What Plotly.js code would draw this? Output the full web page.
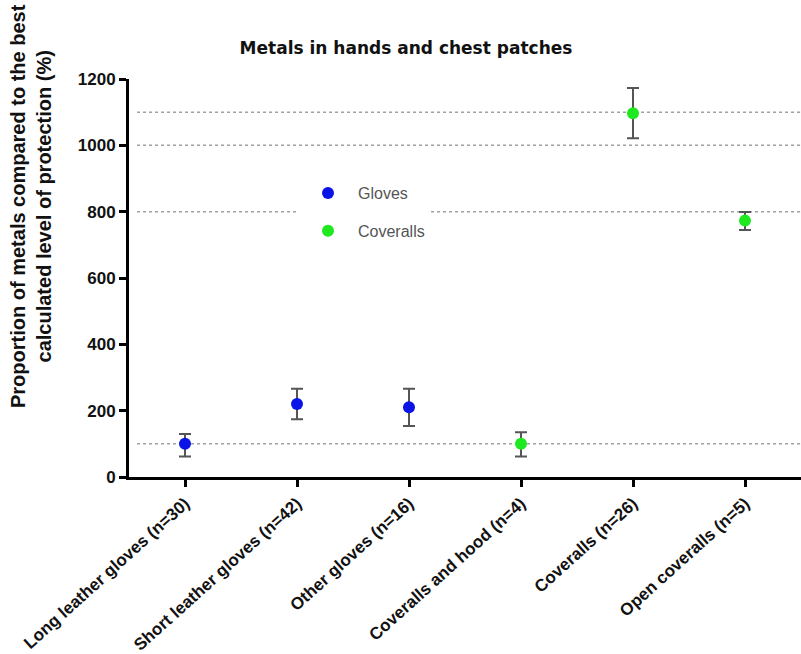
<!DOCTYPE html>
<html>
<head>
<meta charset="utf-8">
<script src="https://cdn.plot.ly/plotly-3.0.1.min.js"></script>
<style>
  html, body { margin: 0; padding: 0; background: #fff; }
  #chart { width: 801px; height: 654px; }
</style>
</head>
<body>
<div id="chart"></div>
<script>
// Protection categories along the x axis
const categories = [
  'Long leather gloves (n=30)',
  'Short leather gloves (n=42)',
  'Other gloves (n=16)',
  'Coveralls and hood (n=4)',
  'Coveralls (n=26)',
  'Open coveralls (n=5)'
];

// Gloves: mean proportion (%) with upper / lower error
const glovesCats = categories.slice(0, 3);
const glovesMean = [100, 220, 210];
const glovesErrUp = [30, 46, 56];
const glovesErrDown = [38, 46, 56];

// Coveralls: mean proportion (%) with upper / lower error
const coverallsCats = categories.slice(3, 6);
const coverallsMean = [100, 1097, 773];
const coverallsErrUp = [35, 76, 26];
const coverallsErrDown = [38, 76, 28];

// Reference levels drawn as dotted horizontal lines
const referenceLevels = [1100, 1000, 800, 100];

const yTicks = [0, 200, 400, 600, 800, 1000, 1200];

const sans = 'Liberation Sans, Arial, sans-serif';

const traces = [
  {
    type: 'scatter', mode: 'markers', name: 'Gloves', legendgroup: 'g1',
    x: glovesCats, y: glovesMean,
    marker: { color: '#0a14e6', size: 12, symbol: 'circle' },
    error_y: { type: 'data', symmetric: false, array: glovesErrUp, arrayminus: glovesErrDown,
               color: '#555', thickness: 2, width: 6 },
    hoverinfo: 'skip'
  },
  {
    type: 'scatter', mode: 'markers', name: 'Coveralls', legendgroup: 'g2',
    x: coverallsCats, y: coverallsMean,
    marker: { color: '#1ee81e', size: 12, symbol: 'circle' },
    error_y: { type: 'data', symmetric: false, array: coverallsErrUp, arrayminus: coverallsErrDown,
               color: '#555', thickness: 2, width: 6 },
    hoverinfo: 'skip'
  }
];

const shapes = referenceLevels.map(v => ({
  type: 'line', xref: 'paper', yref: 'y', x0: 0.012, x1: 1, y0: v, y1: v,
  line: { color: '#a0a0a0', width: 1.5, dash: 'dot' }, layer: 'below'
}));

const layout = {
  width: 801, height: 654,
  margin: { l: 129, r: 0, t: 79, b: 177 },
  paper_bgcolor: '#fff', plot_bgcolor: '#fff',
  showlegend: true,
  title: {
    text: 'Metals in hands and chest patches',
    font: { family: 'DejaVu Sans, Verdana, sans-serif', size: 17, color: '#111', weight: 'bold' },
    x: 406 / 801, xanchor: 'center', y: 1 - 48 / 654, yanchor: 'middle'
  },
  xaxis: {
    type: 'category', categoryorder: 'array', categoryarray: categories,
    range: [-0.5, 5.5], automargin: false,
    showline: true, linecolor: '#000', linewidth: 3,
    ticks: 'outside', ticklen: 7, tickwidth: 3, tickcolor: '#000',
    tickangle: -42, tickfont: { family: sans, size: 17, color: '#111', weight: 'bold' },
    showgrid: false, zeroline: false, fixedrange: true
  },
  yaxis: {
    range: [0, 1200], tickvals: yTicks, automargin: false,
    showline: true, linecolor: '#000', linewidth: 3,
    ticks: 'outside', ticklen: 7, tickwidth: 3, tickcolor: '#000',
    tickfont: { family: sans, size: 17, color: '#111', weight: 'bold' },
    showgrid: false, zeroline: false, fixedrange: true
  },
  legend: {
    x: (298 - 129) / 672, y: 1 - (176 - 79) / 398, xanchor: 'left', yanchor: 'top',
    bgcolor: '#fff', borderwidth: 0,
    font: { family: sans, size: 16, color: '#555' },
    itemwidth: 50, tracegroupgap: 14, traceorder: 'grouped'
  },
  shapes: shapes,
  annotations: [{
    xref: 'paper', yref: 'paper',
    x: (31 - 129) / 672, y: 1 - (206 - 79) / 398,
    xanchor: 'center', yanchor: 'middle', textangle: -90, showarrow: false,
    text: 'Proportion of metals compared to the best<br>calculated level of protection (%)',
    font: { family: sans, size: 20, color: '#111', weight: 'bold' }
  }]
};

Plotly.newPlot('chart', traces, layout, { staticPlot: true, displayModeBar: false });
</script>
</body>
</html>
